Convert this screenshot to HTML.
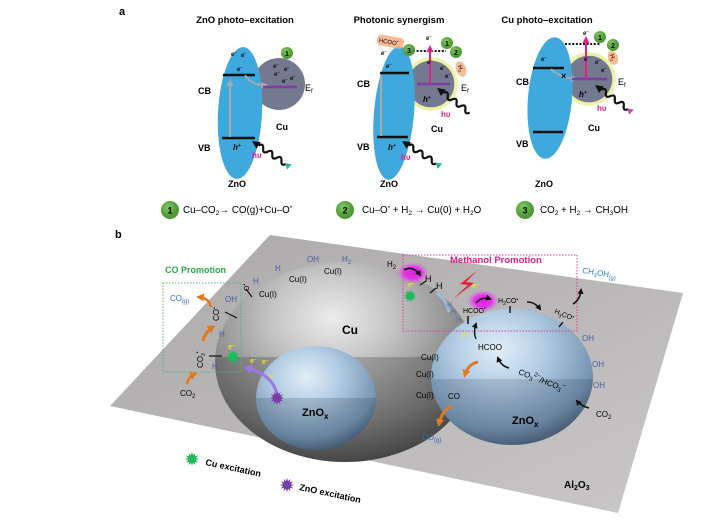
<!DOCTYPE html>
<html><head><meta charset="utf-8"><style>
html,body{margin:0;padding:0;background:#fff;}
svg{display:block;}
text{font-family:"Liberation Sans",Arial,sans-serif;}
</style></head><body>
<svg width="703" height="525" viewBox="0 0 703 525" xmlns="http://www.w3.org/2000/svg">
<defs>
<radialGradient id="cuG" cx="0.45" cy="0.28" r="0.78">
<stop offset="0" stop-color="#ececec"/><stop offset="0.3" stop-color="#c4c4c4"/><stop offset="0.7" stop-color="#7e7e7e"/><stop offset="1" stop-color="#3e3e3e"/></radialGradient>
<radialGradient id="znG" cx="0.42" cy="0.3" r="0.78">
<stop offset="0" stop-color="#e2eef8"/><stop offset="0.35" stop-color="#b3cde4"/><stop offset="0.75" stop-color="#7896b4"/><stop offset="1" stop-color="#3b4e64"/></radialGradient>
<linearGradient id="plG" x1="0" y1="0" x2="1" y2="1">
<stop offset="0" stop-color="#aba9a9"/><stop offset="0.6" stop-color="#bcbaba"/><stop offset="1" stop-color="#cac8c8"/></linearGradient>
<linearGradient id="darkL" x1="0" y1="0" x2="0" y2="1">
<stop offset="0" stop-color="#000" stop-opacity="0.28"/><stop offset="1" stop-color="#000" stop-opacity="0.1"/></linearGradient>
<radialGradient id="glow"><stop offset="0" stop-color="#e11ee6"/><stop offset="0.55" stop-color="#e52ae8" stop-opacity="0.9"/><stop offset="1" stop-color="#f060f0" stop-opacity="0"/></radialGradient>
<radialGradient id="grn" cx="0.4" cy="0.35"><stop offset="0" stop-color="#86c964"/><stop offset="1" stop-color="#4e9a36"/></radialGradient>
<marker id="mB" markerWidth="6" markerHeight="6" refX="4" refY="3" orient="auto" markerUnits="userSpaceOnUse"><path d="M0,0 L6,3 L0,6 Z" fill="#111"/></marker>
<marker id="mG" markerWidth="7" markerHeight="7" refX="5" refY="3.5" orient="auto" markerUnits="userSpaceOnUse"><path d="M0,0 L7,3.5 L0,7 Z" fill="#a9a9a9"/></marker>
<marker id="mM" markerWidth="7" markerHeight="7" refX="5" refY="3.5" orient="auto" markerUnits="userSpaceOnUse"><path d="M0,0 L7,3.5 L0,7 Z" fill="#e0218a"/></marker>
<marker id="mO" markerWidth="8" markerHeight="8" refX="5" refY="4" orient="auto" markerUnits="userSpaceOnUse"><path d="M0,0 L8,4 L0,8 Z" fill="#e07a1e"/></marker>
<marker id="mP" markerWidth="9" markerHeight="9" refX="5" refY="4.5" orient="auto" markerUnits="userSpaceOnUse"><path d="M0,0 L9,4.5 L0,9 Z" fill="#9a7ae6"/></marker>
<polygon id="star" points="7,0 3.86,1.04 6.06,3.5 2.83,2.83 3.5,6.06 1.04,3.86 0,7 -1.04,3.86 -3.5,6.06 -2.83,2.83 -6.06,3.5 -3.86,1.04 -7,0 -3.86,-1.04 -6.06,-3.5 -2.83,-2.83 -3.5,-6.06 -1.04,-3.86 0,-7 1.04,-3.86 3.5,-6.06 2.83,-2.83 6.06,-3.5 3.86,-1.04"/>
<path id="wave" d="M8,0 q2.75,-5 5.5,0 t5.5,0 t5.5,0 t5.5,0 t5.5,0 t5.5,0" fill="none" stroke="#111" stroke-width="2.2"/>
<clipPath id="cuLow"><rect x="0" y="357" width="703" height="200"/></clipPath>
<clipPath id="znLow1"><rect x="0" y="398" width="703" height="200"/></clipPath>
<clipPath id="znLow2"><rect x="0" y="379" width="703" height="200"/></clipPath>
</defs>

<!-- ================= PANEL A ================= -->
<text x="119" y="15" font-size="11" font-weight="bold">a</text>

<!-- Sub-panel 1 -->
<text x="245" y="23" font-size="9.5" font-weight="bold" text-anchor="middle">ZnO photo–excitation</text>
<circle cx="279" cy="84" r="26" fill="#747990"/>
<ellipse cx="240" cy="113" rx="22" ry="66" transform="rotate(3 240 113)" fill="#3fa8dd"/>
<line x1="223" y1="75" x2="255" y2="75" stroke="#111" stroke-width="2.5"/>
<line x1="222" y1="138" x2="255" y2="138" stroke="#111" stroke-width="2.5"/>
<line x1="230" y1="137" x2="230" y2="81" stroke="#a9a9a9" stroke-width="2" marker-end="url(#mG)"/>
<path d="M245,75 Q252,86 266,85" fill="none" stroke="#a9a9a9" stroke-width="1.8" marker-end="url(#mG)"/>
<line x1="263" y1="87" x2="297" y2="87" stroke="#7d3fa3" stroke-width="2.5"/>
<text x="305" y="91" font-size="9">E<tspan font-size="6" dy="2">f</tspan></text>
<circle cx="287" cy="53" r="6" fill="url(#grn)"/><text x="287" y="56" font-size="7" font-weight="bold" text-anchor="middle">1</text>
<g font-size="6" font-style="italic" font-weight="bold" fill="#111">
<text x="231" y="56">e<tspan font-size="4" dy="-2">−</tspan></text>
<text x="241" y="57">e<tspan font-size="4" dy="-2">−</tspan></text>
<text x="237" y="71">e<tspan font-size="4" dy="-2">−</tspan></text>
<text x="273" y="68">e<tspan font-size="4" dy="-2">−</tspan></text>
<text x="284" y="71">e<tspan font-size="4" dy="-2">−</tspan></text>
<text x="274" y="76">e<tspan font-size="4" dy="-2">−</tspan></text>
<text x="282" y="83">e<tspan font-size="4" dy="-2">−</tspan></text>
<text x="290" y="80">e<tspan font-size="4" dy="-2">−</tspan></text>
</g>
<text x="198" y="94" font-size="9" font-weight="bold">CB</text>
<text x="198" y="151" font-size="9" font-weight="bold">VB</text>
<text x="233" y="150" font-size="8" font-weight="bold" font-style="italic">h<tspan font-size="5" dy="-3">+</tspan></text>
<text x="252" y="158" font-size="8" font-weight="bold" fill="#e0218a">hυ</text>
<text x="276" y="130" font-size="9" font-weight="bold">Cu</text>
<text x="228" y="187" font-size="9" font-weight="bold">ZnO</text>
<g transform="translate(252,141) rotate(34)">
<polygon points="0,0 8,-4 8,4" fill="#111"/><use href="#wave"/><polygon points="40,0 46,-3 45,4" fill="#2bb39a"/></g>

<!-- Legend 1 -->
<circle cx="170" cy="210" r="9" fill="url(#grn)"/><text x="170" y="213.5" font-size="9" font-weight="bold" text-anchor="middle">1</text>
<text x="183" y="213" font-size="9.8">Cu–CO<tspan font-size="6.5" dy="2">2</tspan><tspan dy="-2">→ CO(g)+Cu–O</tspan><tspan font-size="6.5" dy="-3">*</tspan></text>

<!-- Sub-panel 2 -->
<text x="399" y="23" font-size="9.5" font-weight="bold" text-anchor="middle">Photonic synergism</text>
<circle cx="431" cy="84" r="25" fill="#747990" stroke="#eef2a6" stroke-width="3.5"/>
<ellipse cx="394" cy="113" rx="20" ry="67" transform="rotate(5 394 113)" fill="#3fa8dd"/>
<line x1="380" y1="73" x2="409" y2="73" stroke="#111" stroke-width="2.5"/>
<line x1="377" y1="137" x2="408" y2="137" stroke="#111" stroke-width="2.5"/>
<line x1="381" y1="136" x2="381" y2="75" stroke="#a9a9a9" stroke-width="2"/>
<line x1="413" y1="51" x2="446" y2="51" stroke="#111" stroke-width="2" stroke-dasharray="2,1.6"/>
<line x1="417" y1="84" x2="450" y2="84" stroke="#7d3fa3" stroke-width="2.5"/>
<line x1="430" y1="84" x2="430" y2="47" stroke="#e0218a" stroke-width="2" marker-end="url(#mM)"/>
<text x="461" y="91" font-size="9">E<tspan font-size="6" dy="2">f</tspan></text>
<g transform="translate(378,40) rotate(10)"><rect x="-1" y="-6" width="27" height="11" rx="4" fill="#f6b084" opacity="0.85"/><text x="1" y="2" font-size="6">HCOO<tspan font-size="4" dy="-2">*</tspan></text></g>
<g transform="translate(461,69) rotate(70)"><ellipse cx="0" cy="0" rx="8" ry="5" fill="#f6b084" opacity="0.85"/><text x="-4" y="2" font-size="6">H<tspan font-size="4" dy="1.5">2</tspan></text></g>
<circle cx="409" cy="50" r="6" fill="url(#grn)"/><text x="409" y="53" font-size="7" font-weight="bold" text-anchor="middle">3</text>
<circle cx="447" cy="43" r="6" fill="url(#grn)"/><text x="447" y="46" font-size="7" font-weight="bold" text-anchor="middle">1</text>
<circle cx="456" cy="52" r="6" fill="url(#grn)"/><text x="456" y="55" font-size="7" font-weight="bold" text-anchor="middle">2</text>
<g font-size="6" font-style="italic" font-weight="bold" fill="#111">
<text x="426" y="40">e<tspan font-size="4" dy="-2">−</tspan></text>
<text x="381" y="55">e<tspan font-size="4" dy="-2">−</tspan></text>
<text x="386" y="68">e<tspan font-size="4" dy="-2">−</tspan></text>
<text x="427" y="64">e<tspan font-size="4" dy="-2">−</tspan></text>
<text x="440" y="70">e<tspan font-size="4" dy="-2">−</tspan></text>
<text x="445" y="78">e<tspan font-size="4" dy="-2">−</tspan></text>
</g>
<text x="423" y="102" font-size="8" font-weight="bold" font-style="italic">h<tspan font-size="5" dy="-3">+</tspan></text>
<text x="441" y="117" font-size="8" font-weight="bold" fill="#e0218a">hυ</text>
<text x="388" y="150" font-size="8" font-weight="bold" font-style="italic">h<tspan font-size="5" dy="-3">+</tspan></text>
<text x="401" y="160" font-size="8" font-weight="bold" fill="#e0218a">hυ</text>
<text x="357" y="87" font-size="9" font-weight="bold">CB</text>
<text x="357" y="150" font-size="9" font-weight="bold">VB</text>
<text x="431" y="132" font-size="9" font-weight="bold">Cu</text>
<text x="380" y="187" font-size="9" font-weight="bold">ZnO</text>
<g transform="translate(437,88) rotate(37)"><polygon points="0,0 8,-4 8,4" fill="#111"/><use href="#wave"/></g>
<g transform="translate(402,141) rotate(33)"><polygon points="0,0 8,-4 8,4" fill="#111"/><use href="#wave"/><polygon points="40,0 46,-3 45,4" fill="#2bb39a"/></g>

<!-- Legend 2 -->
<circle cx="345" cy="210" r="9" fill="url(#grn)"/><text x="345" y="213.5" font-size="9" font-weight="bold" text-anchor="middle">2</text>
<text x="362" y="213" font-size="9.8">Cu–O<tspan font-size="6.5" dy="-3">*</tspan><tspan dy="3"> + H</tspan><tspan font-size="6.5" dy="2">2</tspan><tspan dy="-2"> → Cu(0) + H</tspan><tspan font-size="6.5" dy="2">2</tspan><tspan dy="-2">O</tspan></text>

<!-- Sub-panel 3 -->
<text x="547" y="23" font-size="9.5" font-weight="bold" text-anchor="middle">Cu photo–excitation</text>
<circle cx="589" cy="79" r="25" fill="#747990" stroke="#eef2a6" stroke-width="3.5"/>
<ellipse cx="550" cy="98" rx="22" ry="61" transform="rotate(5 550 98)" fill="#3fa8dd"/>
<line x1="533" y1="68" x2="564" y2="68" stroke="#111" stroke-width="2.5"/>
<line x1="533" y1="132" x2="563" y2="132" stroke="#111" stroke-width="2.5"/>
<path d="M551,69 Q560,78 576,79" fill="none" stroke="#a9a9a9" stroke-width="1.8" marker-end="url(#mG)"/>
<text x="561" y="79" font-size="9" font-weight="bold">×</text>
<line x1="565" y1="44" x2="600" y2="44" stroke="#111" stroke-width="2" stroke-dasharray="2,1.6"/>
<line x1="572" y1="79" x2="607" y2="79" stroke="#7d3fa3" stroke-width="2.5"/>
<line x1="586" y1="80" x2="586" y2="38" stroke="#e0218a" stroke-width="2" marker-end="url(#mM)"/>
<text x="618" y="85" font-size="9">E<tspan font-size="6" dy="2">f</tspan></text>
<circle cx="600" cy="37" r="6" fill="url(#grn)"/><text x="600" y="40" font-size="7" font-weight="bold" text-anchor="middle">1</text>
<circle cx="613" cy="45" r="6" fill="url(#grn)"/><text x="613" y="48" font-size="7" font-weight="bold" text-anchor="middle">2</text>
<g transform="translate(613,58) rotate(70)"><ellipse cx="0" cy="0" rx="7" ry="5" fill="#f6b084" opacity="0.85"/><text x="-4" y="2" font-size="6">H<tspan font-size="4" dy="1.5">2</tspan></text></g>
<g font-size="6" font-style="italic" font-weight="bold" fill="#111">
<text x="583" y="35">e<tspan font-size="4" dy="-2">−</tspan></text>
<text x="541" y="61">e<tspan font-size="4" dy="-2">−</tspan></text>
<text x="584" y="61">e<tspan font-size="4" dy="-2">−</tspan></text>
<text x="595" y="64">e<tspan font-size="4" dy="-2">−</tspan></text>
<text x="601" y="72">e<tspan font-size="4" dy="-2">−</tspan></text>
</g>
<text x="579" y="97" font-size="8" font-weight="bold" font-style="italic">h<tspan font-size="5" dy="-3">+</tspan></text>
<text x="597" y="111" font-size="8" font-weight="bold" fill="#e0218a">hυ</text>
<text x="516" y="85" font-size="9" font-weight="bold">CB</text>
<text x="516" y="147" font-size="9" font-weight="bold">VB</text>
<text x="588" y="131" font-size="9" font-weight="bold">Cu</text>
<text x="535" y="187" font-size="9" font-weight="bold">ZnO</text>
<g transform="translate(595,85) rotate(36)"><polygon points="0,0 8,-4 8,4" fill="#111"/><use href="#wave"/><polygon points="40,0 46,-3 45,4" fill="#c04fb0"/></g>

<!-- Legend 3 -->
<circle cx="525" cy="210" r="9" fill="url(#grn)"/><text x="525" y="213.5" font-size="9" font-weight="bold" text-anchor="middle">3</text>
<text x="540" y="213" font-size="9.8">CO<tspan font-size="6.5" dy="2">2</tspan><tspan dy="-2"> + H</tspan><tspan font-size="6.5" dy="2">2</tspan><tspan dy="-2"> → CH</tspan><tspan font-size="6.5" dy="2">3</tspan><tspan dy="-2">OH</tspan></text>

<!-- ================= PANEL B ================= -->
<text x="115" y="238" font-size="11" font-weight="bold">b</text>
<polygon points="270,235 683,293 618,513 110,406" fill="url(#plG)"/>

<!-- Cu dome -->
<ellipse cx="345" cy="362" rx="130" ry="100" fill="url(#cuG)"/>
<ellipse cx="345" cy="362" rx="130" ry="100" fill="url(#darkL)" clip-path="url(#cuLow)"/>

<!-- small ZnOx -->
<ellipse cx="316" cy="398" rx="60" ry="52" fill="url(#znG)"/>
<ellipse cx="316" cy="398" rx="60" ry="52" fill="#1c2c3c" opacity="0.18" clip-path="url(#znLow1)"/>

<!-- big ZnOx -->
<ellipse cx="512" cy="377" rx="81" ry="68" fill="url(#znG)"/>
<ellipse cx="512" cy="377" rx="81" ry="68" fill="#1c2c3c" opacity="0.16" clip-path="url(#znLow2)"/>

<!-- boxes -->
<rect x="163" y="283" width="78" height="89" fill="none" stroke="#5bb07c" stroke-width="1" stroke-dasharray="1.5,1.5"/>
<rect x="403" y="255" width="174" height="76" fill="none" stroke="#d9409a" stroke-width="1" stroke-dasharray="1.5,1.5"/>
<text x="165" y="273" font-size="9" font-weight="bold" fill="#2aa84a">CO Promotion</text>
<text x="450" y="263" font-size="9.5" font-weight="bold" fill="#d9237f">Methanol Promotion</text>

<!-- CO promotion details -->
<text x="170" y="301" font-size="8" fill="#2f6fc0">CO<tspan font-size="6" dy="2">(g)</tspan></text>
<path d="M211,307 Q209,298 199,297" fill="none" stroke="#e07a1e" stroke-width="2.5" marker-end="url(#mO)"/>
<text transform="translate(219,321) rotate(-90)" font-size="8">CO<tspan font-size="5" dy="-3">•</tspan></text>
<text x="225" y="302" font-size="8" fill="#4a5ca8">OH</text>
<line x1="225" y1="312" x2="237" y2="318" stroke="#111" stroke-width="1.2"/>
<text transform="translate(249,291) rotate(-90)" font-size="7">O<tspan font-size="5" dy="-3">•</tspan></text>
<text x="253" y="284" font-size="8" fill="#4a5ca8">H</text>
<line x1="246" y1="289" x2="252" y2="297" stroke="#111" stroke-width="1.2"/>
<text x="259" y="297" font-size="8">Cu(I)</text>
<path d="M203,341 Q205,332 213,327" fill="none" stroke="#e07a1e" stroke-width="3" marker-end="url(#mO)"/>
<text x="219" y="337" font-size="8" fill="#4a5ca8">H</text>
<text transform="translate(203,368) rotate(-90)" font-size="8">CO<tspan font-size="5" dy="2">3</tspan><tspan font-size="5" dy="-6">•</tspan></text>
<line x1="209" y1="356" x2="222" y2="356" stroke="#111" stroke-width="1.2"/>
<text x="212" y="369" font-size="8" fill="#4a5ca8">H</text>
<path d="M187,384 Q188,377 195,374" fill="none" stroke="#e07a1e" stroke-width="2.5" marker-end="url(#mO)"/>
<text x="180" y="396" font-size="8">CO<tspan font-size="6" dy="2">2</tspan></text>
<use href="#star" transform="translate(233,357)" fill="#1fb85a"/>
<g font-size="7" font-weight="bold" fill="#f2e41e">
<text x="228" y="349">e<tspan font-size="5" dy="-2">−</tspan></text>
<text x="250" y="363">e<tspan font-size="5" dy="-2">−</tspan></text>
<text x="262" y="364">e<tspan font-size="5" dy="-2">−</tspan></text>
<text x="269" y="379">e<tspan font-size="5" dy="-2">−</tspan></text>
</g>
<path d="M277,394 Q272,374 247,368" fill="none" stroke="#9a7ae6" stroke-width="3" marker-end="url(#mP)"/>
<use href="#star" transform="translate(277,398)" fill="#7a3fa6"/>

<!-- top of Cu labels -->
<text x="275" y="271" font-size="8" fill="#4a5ca8">H</text>
<text x="289" y="282" font-size="8">Cu(I)</text>
<text x="307" y="262" font-size="8" fill="#4a5ca8">OH</text>
<text x="324" y="274" font-size="8">Cu(I)</text>
<text x="342" y="262" font-size="8" fill="#4a5ca8">H<tspan font-size="6" dy="2">2</tspan></text>
<text x="342" y="334" font-size="12" font-weight="bold">Cu</text>

<!-- methanol promotion details -->
<text x="387" y="267" font-size="8">H<tspan font-size="6" dy="2">2</tspan></text>
<ellipse cx="413" cy="273" rx="16" ry="11" fill="url(#glow)"/>
<path d="M404,270 Q413,265 420,275" fill="none" stroke="#111" stroke-width="1.5" marker-end="url(#mB)"/>
<text x="408" y="287" font-size="7" font-weight="bold" fill="#f2e41e">e<tspan font-size="5" dy="-2">−</tspan></text>
<use href="#star" transform="translate(410,296) scale(0.9)" fill="#1fb85a"/>
<text x="425" y="282" font-size="9">H</text>
<line x1="420" y1="285" x2="426" y2="281" stroke="#111" stroke-width="1.2"/>
<text x="436" y="289" font-size="9">H</text>
<line x1="430" y1="293" x2="436" y2="288" stroke="#111" stroke-width="1.2"/>
<path d="M436,293 Q446,298 449,312" fill="none" stroke="#9cc3e6" stroke-width="3" opacity="0.8"/>
<g font-size="7" fill="#4a6fb8"><text x="447" y="307">H</text><text x="451" y="314">H</text><text x="456" y="322">H</text></g>
<polygon points="477,271 460,284 468,285 453,299 474,283 466,282" fill="#e0203a"/>
<text x="472" y="288" font-size="7" font-weight="bold" fill="#f2e41e">e<tspan font-size="5" dy="-2">−</tspan></text>
<ellipse cx="483" cy="301" rx="16" ry="11" fill="url(#glow)"/>
<path d="M476,303 Q482,296 490,299" fill="none" stroke="#111" stroke-width="1.5" marker-end="url(#mB)"/>
<text x="463" y="313" font-size="7">HCOO<tspan font-size="5" dy="-2">*</tspan></text>
<line x1="468" y1="316" x2="468" y2="324" stroke="#111" stroke-width="1.5"/>
<text x="462" y="337" font-size="7" font-weight="bold" fill="#f2e41e">e<tspan font-size="5" dy="-2">−</tspan></text>
<path d="M476,339 Q473,332 476,324" fill="none" stroke="#111" stroke-width="1.4" marker-end="url(#mB)"/>
<text x="498" y="303" font-size="7">H<tspan font-size="5" dy="2">2</tspan><tspan dy="-2">CO</tspan><tspan font-size="5" dy="-2">•</tspan></text>
<line x1="510" y1="306" x2="510" y2="313" stroke="#111" stroke-width="1.4"/>
<path d="M527,302 Q535,302 540,309" fill="none" stroke="#111" stroke-width="1.6" marker-end="url(#mB)"/>
<text transform="translate(554,313) rotate(22)" font-size="7">H<tspan font-size="5" dy="2">3</tspan><tspan dy="-2">CO</tspan><tspan font-size="5" dy="-2">•</tspan></text>
<line x1="563" y1="322" x2="559" y2="327" stroke="#111" stroke-width="1.4"/>
<path d="M573,304 Q580,300 581,290" fill="none" stroke="#111" stroke-width="1.6" marker-end="url(#mB)"/>
<text transform="translate(582,273) rotate(9)" font-size="8" fill="#2f7fd0">CH<tspan font-size="6" dy="2">3</tspan><tspan dy="-2">OH</tspan><tspan font-size="6" dy="2">(g)</tspan></text>

<!-- big sphere labels -->
<text x="478" y="350" font-size="8">HCOO</text>
<path d="M509,368 Q501,366 498,358" fill="none" stroke="#111" stroke-width="1.6" marker-end="url(#mB)"/>
<text transform="translate(518,374) rotate(21)" font-size="8">CO<tspan font-size="6" dy="2">3</tspan><tspan font-size="6" dy="-6">2−</tspan><tspan dy="4">/HCO</tspan><tspan font-size="6" dy="2">3</tspan><tspan font-size="6" dy="-6">−</tspan></text>
<g font-size="8" fill="#4a5ca8"><text x="582" y="341">OH</text><text x="592" y="367">OH</text><text x="593" y="388">OH</text></g>
<path d="M589,408 Q581,406 577,401" fill="none" stroke="#111" stroke-width="1.6" marker-end="url(#mB)"/>
<text x="596" y="417" font-size="8">CO<tspan font-size="6" dy="2">2</tspan></text>
<g font-size="8"><text x="421" y="360">Cu(I)</text><text x="416" y="377">Cu(I)</text><text x="416" y="398">Cu(I)</text></g>
<text x="448" y="399" font-size="8">CO</text>
<path d="M478,362 Q468,364 465,375" fill="none" stroke="#e07a1e" stroke-width="3" marker-end="url(#mO)"/>
<path d="M452,406 Q442,410 439,424" fill="none" stroke="#e07a1e" stroke-width="3" marker-end="url(#mO)"/>
<text x="422" y="440" font-size="8" fill="#2f6fc0">CO<tspan font-size="6" dy="2">(g)</tspan></text>
<text x="512" y="424" font-size="11" font-weight="bold">ZnO<tspan font-size="8" dy="3">x</tspan></text>
<text x="302" y="416" font-size="11" font-weight="bold">ZnO<tspan font-size="8" dy="3">x</tspan></text>
<text x="564" y="488" font-size="10" font-weight="bold">Al<tspan font-size="7" dy="2">2</tspan><tspan dy="-2">O</tspan><tspan font-size="7" dy="2">3</tspan></text>

<!-- legend b -->
<use href="#star" transform="translate(192,459)" fill="#1fb85a"/>
<text transform="translate(205,465) rotate(12)" font-size="9" font-weight="bold">Cu excitation</text>
<use href="#star" transform="translate(287,485)" fill="#7a3fa6"/>
<text transform="translate(299,490) rotate(12)" font-size="9" font-weight="bold">ZnO excitation</text>
</svg>
</body></html>
